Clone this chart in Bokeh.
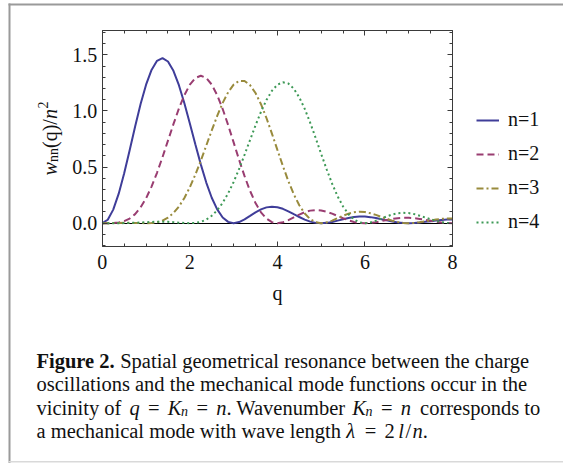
import math
from bokeh.plotting import figure
from bokeh.models import (Range1d, FixedTicker, LinearAxis, Label, Legend, LegendItem,
                          BoxAnnotation, PrintfTickFormatter, CustomJSTickFormatter)
from bokeh.embed import file_html
from bokeh.resources import INLINE

# ---------------- data ----------------
q = [0, 0.125, 0.25, 0.375, 0.5, 0.625, 0.75, 0.875, 1, 1.125, 1.25, 1.375, 1.5, 1.625, 1.75, 1.875,
     2, 2.125, 2.25, 2.375, 2.5, 2.625, 2.75, 2.875, 3, 3.125, 3.25, 3.375, 3.5, 3.625, 3.75, 3.875,
     4, 4.125, 4.25, 4.375, 4.5, 4.625, 4.75, 4.875, 5, 5.125, 5.25, 5.375, 5.5, 5.625, 5.75, 5.875,
     6, 6.125, 6.25, 6.375, 6.5, 6.625, 6.75, 6.875, 7, 7.125, 7.25, 7.375, 7.5, 7.625, 7.75, 7.875, 8]

w_n1 = [0, 0.031, 0.121, 0.263, 0.444, 0.649, 0.861, 1.061, 1.234, 1.365, 1.446, 1.471, 1.440, 1.357, 1.229, 1.069,
        0.889, 0.703, 0.524, 0.362, 0.227, 0.123, 0.051, 0.012, 0, 0.010, 0.034, 0.065, 0.097, 0.123, 0.141, 0.147,
        0.142, 0.128, 0.106, 0.080, 0.055, 0.032, 0.014, 0.003, 0, 0.003, 0.011, 0.023, 0.035, 0.047, 0.055, 0.059,
        0.059, 0.054, 0.046, 0.036, 0.025, 0.015, 0.007, 0.002, 0, 0.002, 0.006, 0.012, 0.018, 0.025, 0.029, 0.032, 0.032]

w_n2 = [0, 0.000, 0.001, 0.006, 0.018, 0.041, 0.081, 0.141, 0.222, 0.326, 0.449, 0.588, 0.735, 0.882, 1.021, 1.140,
        1.234, 1.293, 1.313, 1.294, 1.235, 1.140, 1.017, 0.874, 0.720, 0.565, 0.419, 0.288, 0.180, 0.097, 0.041, 0.009,
        0, 0.008, 0.027, 0.052, 0.077, 0.098, 0.112, 0.117, 0.113, 0.102, 0.085, 0.064, 0.044, 0.026, 0.011, 0.003,
        0, 0.003, 0.009, 0.019, 0.029, 0.038, 0.045, 0.049, 0.048, 0.045, 0.038, 0.030, 0.021, 0.012, 0.006, 0.001, 0]

w_n3 = [0, 0.000, 0.001, 0.002, 0.003, 0.003, 0.002, 0.001, 0, 0.002, 0.008, 0.023, 0.049, 0.090, 0.148, 0.225,
        0.320, 0.432, 0.557, 0.691, 0.826, 0.956, 1.072, 1.166, 1.234, 1.268, 1.267, 1.230, 1.160, 1.060, 0.937, 0.798,
        0.653, 0.510, 0.375, 0.257, 0.160, 0.086, 0.036, 0.008, 0, 0.007, 0.023, 0.045, 0.067, 0.085, 0.097, 0.102,
        0.099, 0.089, 0.074, 0.056, 0.038, 0.022, 0.010, 0.002, 0, 0.002, 0.008, 0.016, 0.025, 0.033, 0.039, 0.042, 0.042]

w_n4 = [0, 0, 0, 0, 0.001, 0.002, 0.004, 0.006, 0.009, 0.011, 0.013, 0.013, 0.012, 0.009, 0.005, 0.002,
        0, 0.003, 0.012, 0.032, 0.066, 0.115, 0.181, 0.266, 0.367, 0.483, 0.610, 0.741, 0.871, 0.992, 1.097, 1.179,
        1.234, 1.255, 1.244, 1.198, 1.121, 1.018, 0.894, 0.758, 0.617, 0.480, 0.352, 0.240, 0.149, 0.080, 0.033, 0.008,
        0, 0.006, 0.022, 0.041, 0.061, 0.078, 0.089, 0.093, 0.090, 0.081, 0.067, 0.051, 0.035, 0.020, 0.009, 0.002, 0]

labels = ["n=1", "n=2", "n=3", "n=4"]
x_ticks = [0, 2, 4, 6, 8]
y_ticks = [0, 0.5, 1.0, 1.5]
x_lim = (0, 8)
y_lim = (-0.2075, 1.7164)

colors = ["#3F3D99", "#993D71", "#998B3D", "#3D9956"]
dashes = ["solid", "7 4", "7 3 2 3", "2 3"]

# ---------------- figure (frame = whole canvas; plot box made of fixed-location axes) ----------------
W, H = 563, 463
SERIF = "Liberation Serif"
FRAME = "#3a3a3a"
TXT = "#111111"

# pixel placement of the plot box: q=0 -> x 101.8, q=8 -> x 452 ; y=0 -> 222.7 px from top, 112.27 px per unit
PX0, PXU = 101.8, (452.0 - 101.8) / 8
PY0, PYU = 222.7, 112.27
x_range = Range1d((0 - PX0) / PXU, (W - PX0) / PXU)
y_range = Range1d((PY0 - H) / PYU, PY0 / PYU)

p = figure(width=W, height=H, output_backend="svg", toolbar_location=None,
           x_range=x_range, y_range=y_range,
           x_axis_location=None, y_axis_location=None,
           min_border_left=0, min_border_right=0, min_border_top=0, min_border_bottom=0,
           background_fill_color="white", border_fill_color="white")
p.grid.visible = False
p.outline_line_color = None

xt = FixedTicker(ticks=x_ticks, minor_ticks=[i * 0.5 for i in range(17)])
yt = FixedTicker(ticks=y_ticks, minor_ticks=[round(-0.2 + i * 0.1, 1) for i in range(20)])
blank = CustomJSTickFormatter(code="return ''")


def style_axis(ax):
    ax.axis_line_color = FRAME
    ax.axis_line_width = 1
    ax.major_tick_in = 5
    ax.major_tick_out = 0
    ax.minor_tick_in = 3
    ax.minor_tick_out = 0
    ax.major_tick_line_color = FRAME
    ax.minor_tick_line_color = FRAME
    ax.major_label_text_font = SERIF
    ax.major_label_text_font_size = "20px"
    ax.major_label_text_color = TXT


xb = LinearAxis(fixed_location=y_lim[0], bounds=x_lim, ticker=xt)
style_axis(xb)
xb.major_label_standoff = 9
xb.axis_label = "q"
xb.axis_label_text_font = SERIF
xb.axis_label_text_font_style = "normal"
xb.axis_label_text_font_size = "20px"
xb.axis_label_text_color = TXT
xb.axis_label_standoff = 9
p.add_layout(xb, "below")

xa = LinearAxis(fixed_location=y_lim[1], bounds=x_lim, ticker=xt, formatter=blank)
style_axis(xa)
xa.major_label_text_font_size = "1px"
p.add_layout(xa, "above")

yl = LinearAxis(fixed_location=x_lim[0], bounds=y_lim, ticker=yt,
                formatter=PrintfTickFormatter(format="%.1f"))
style_axis(yl)
yl.major_label_standoff = 5
p.add_layout(yl, "left")

yr = LinearAxis(fixed_location=x_lim[1], bounds=y_lim, ticker=yt, formatter=blank)
style_axis(yr)
yr.major_label_text_font_size = "1px"
p.add_layout(yr, "right")

# Mathematica-style horizontal axis through y = 0
zero = LinearAxis(fixed_location=0, bounds=x_lim, ticker=FixedTicker(ticks=[]), formatter=blank,
                  axis_line_color="black", axis_line_width=1.2, major_tick_line_color=None,
                  minor_tick_line_color=None, major_label_text_font_size="1px", level="underlay")
p.add_layout(zero, "below")

renderers = []
for lab_, vals, c, d in zip(labels, [w_n1, w_n2, w_n3, w_n4], colors, dashes):
    r = p.line(q, vals, line_color=c, line_width=2, line_dash=d)
    renderers.append(r)

legend = Legend(items=[LegendItem(label=l, renderers=[r]) for l, r in zip(labels, renderers)],
                location=(476, 230), glyph_width=23, glyph_height=20, label_standoff=9, spacing=11,
                padding=0, margin=0, label_text_font=SERIF, label_text_font_size="20px",
                label_text_color=TXT, background_fill_alpha=0, border_line_alpha=0)
p.add_layout(legend)


# ---------------- free texts (screen px from canvas bottom-left) ----------------
def lab(text, x, ytop, size, style="normal", angle=0.0):
    p.add_layout(Label(x=x, y=H - ytop, x_units="screen", y_units="screen", text=text, angle=angle,
                       text_font=SERIF, text_font_size=size, text_font_style=style,
                       text_color=TXT, text_align="left", text_baseline="alphabetic"))


# y axis label  w_nn(q)/n^2  (rotated, reading upwards)
R = math.pi / 2
lab("w", 49, 175, "20px", "italic", R)
lab("nn", 52.5, 161.5, "14px", "normal", R)
lab("(q)/", 49, 147.5, "20px", "normal", R)
lab("n", 49, 118.5, "20px", "italic", R)
lab("2", 42, 108, "14px", "normal", R)

# caption
CS = "20.5px"
SS = "14px"
B1, B2, B3, B4 = 360, 383.5, 407, 430.5
lab("Figure 2.", 36, B1, CS, "bold")
lab("Spatial geometrical resonance between the charge", 119.7, B1, CS)
lab("oscillations and the mechanical mode functions occur in the", 36, B2, CS)

lab("vicinity of", 36, B3, CS)
lab("q", 129.0, B3, CS, "italic")
lab("=", 147.4, B3, CS)
lab("K", 167.2, B3, CS, "italic")
lab("n", 180.5, B3 + 4, SS, "italic")
lab("=", 195.9, B3, CS)
lab("n", 215.7, B3, CS, "italic")
lab(". Wavenumber", 225.9, B3, CS)
lab("K", 351.7, B3, CS, "italic")
lab("n", 365.0, B3 + 4, SS, "italic")
lab("=", 380.4, B3, CS)
lab("n", 400.2, B3, CS, "italic")
lab("corresponds to", 419.6, B3, CS)

lab("a mechanical mode with wave length", 36, B4, CS)
lab("\u03bb", 345.7, B4, CS, "italic")
lab("=", 364.2, B4, CS)
lab("2", 384.0, B4, CS)
lab("l", 397.8, B4, CS, "italic")
lab("/", 405.0, B4, CS)
lab("n", 412.0, B4, CS, "italic")
lab(".", 422.3, B4, CS)


# ---------------- outer box of the figure panel ----------------
def box(l, r, top, bot, color):
    p.add_layout(BoxAnnotation(left=l, right=r, top=H - top, bottom=H - bot,
                               left_units="screen", right_units="screen",
                               top_units="screen", bottom_units="screen",
                               fill_color=color, fill_alpha=1, line_color=None, level="underlay"))


box(8, 10, 3, 463, "#9a9a9a")
box(8, 563, 3, 5, "#9a9a9a")
box(8, 563, 460.5, 462, "#d9d9d9")

open("out.html", "w").write(file_html(p, INLINE, title="Figure 2"))
